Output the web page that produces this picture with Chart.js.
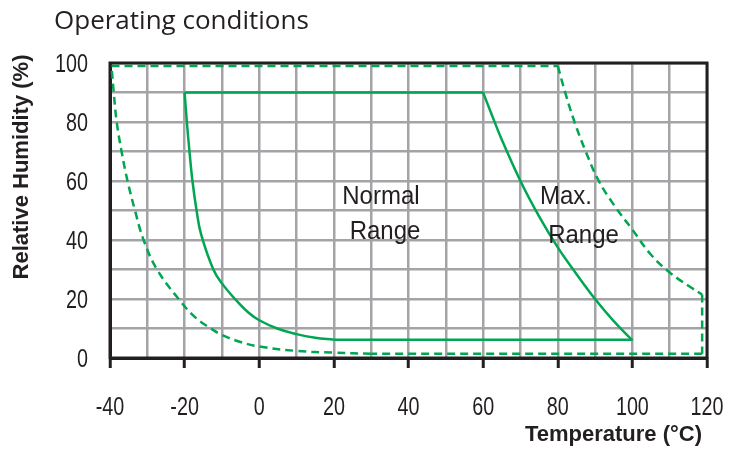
<!DOCTYPE html>
<html>
<head>
<meta charset="utf-8">
<script src="https://cdn.jsdelivr.net/npm/chart.js@4.4.1/dist/chart.umd.min.js"></script>
<style>
  body { margin: 0; background: #fff; }
  #wrap { width: 742px; height: 450px; }
</style>
</head>
<body>
<div id="wrap"><canvas id="myChart" width="742" height="450"></canvas></div>
<script>
  // normal range (solid outline), temperature in degC, relative humidity in %
  var normTopT = [-20, 60];
  var normTopRH = [90, 90];
  var normHotT = [60, 62, 65, 70, 75, 80, 85, 90, 95, 100];
  var normHotRH = [90, 83.5, 74, 60, 48, 37.5, 28.5, 20, 12.5, 6];
  var normBottomT = [100, 20];
  var normBottomRH = [6.2, 6.2];
  var normColdT = [20, 15, 10, 5, 0, -3, -6.5, -10, -12.3, -15.6, -16.8, -17.9, -18.7, -19.4, -20];
  var normColdRH = [6.2, 6.9, 8.1, 9.9, 12.8, 15.5, 20, 25.3, 30, 42, 50, 60, 70, 80, 90];

  // max. range (dashed outline)
  var maxTopT = [-39.6, 80];
  var maxTopRH = [99, 99];
  var maxHotT = [80, 82, 84.5, 87.5, 91, 95, 100, 105, 110, 115, 118.7];
  var maxHotRH = [99, 90, 80, 70, 60, 52, 43.5, 35, 29, 24.5, 21.5];
  var maxSideT = [118.7, 118.7];
  var maxSideRH = [21.5, 1.4];
  var maxBottomT = [118.7, 30];
  var maxBottomRH = [1.4, 1.4];
  var maxColdT = [30, 20, 10, 0, -5, -10, -12.7, -17, -21.6, -27.4, -31, -33.3, -35.3, -36.9, -38.2, -39, -39.6];
  var maxColdRH = [1.4, 1.8, 2.4, 3.9, 5.4, 7.8, 9.8, 13.6, 20, 30, 40, 50, 60, 70, 80, 90, 99];

  // labels inside the plot
  var noteText = ["Normal", "Range", "Max.", "Range"];
  var noteT = [32.6, 33.7, 82.2, 86.9];
  var noteRH = [54.6, 42.8, 54.6, 41.6];

  var GREEN = '#00a651';
  var GRID = '#a4a4a7';
  var INK = '#231f20';

  var seg = function(ts, rhs, dashed, tension) {
    return {
      data: ts.map(function(t, i) { return {x: t, y: rhs[i]}; }),
      showLine: true,
      borderColor: GREEN,
      borderWidth: 2.5,
      borderDash: dashed ? [8, 5] : [],
      pointRadius: 0,
      tension: tension,
      fill: false
    };
  };

  // narrow tick text: regular face squeezed sideways
  var narrowText = function(c, txt, x, y, align) {
    c.save();
    c.translate(x, y);
    c.scale(0.79, 1);
    c.textAlign = align;
    c.fillText(txt, 0, 0);
    c.restore();
  };

  var overlay = {
    id: 'overlay',
    beforeDatasetsDraw: function(chart) {
      var c = chart.ctx, a = chart.chartArea;
      c.save();
      c.strokeStyle = INK;
      c.lineWidth = 3;
      c.strokeRect(a.left, a.top, a.right - a.left, a.bottom - a.top);
      c.restore();
    },
    afterDraw: function(chart) {
      var c = chart.ctx, a = chart.chartArea;
      var xs = chart.scales.x, ys = chart.scales.y;
      c.save();
      c.fillStyle = INK;

      // tick labels, every second tick
      c.font = '25px "Liberation Sans"';
      c.textBaseline = 'alphabetic';
      xs.ticks.forEach(function(t) {
        if (t.value % 20 !== 0) return;
        narrowText(c, String(t.value), xs.getPixelForValue(t.value), a.bottom + 57, 'center');
      });
      ys.ticks.forEach(function(t) {
        if (t.value % 20 !== 0) return;
        narrowText(c, String(t.value), a.left - 22, ys.getPixelForValue(t.value) + 9, 'right');
      });

      c.font = '26px "Open Sans"';
      c.textAlign = 'left';
      c.fillText('Operating conditions', 54, 29);

      c.font = 'bold 22px "Liberation Sans"';
      c.textAlign = 'right';
      c.fillText('Temperature (\u00b0C)', 702, 441);

      c.save();
      c.translate(28, 167);
      c.rotate(-Math.PI / 2);
      c.textAlign = 'center';
      c.fillText('Relative Humidity (%)', 0, 0);
      c.restore();

      c.font = '24px "Liberation Sans"';
      c.textAlign = 'center';
      c.textBaseline = 'middle';
      for (var i = 0; i < noteText.length; i++) {
        c.save();
        c.translate(xs.getPixelForValue(noteT[i]), ys.getPixelForValue(noteRH[i]));
        c.scale(1, 1.1);
        c.fillText(noteText[i], 0, 0);
        c.restore();
      }
      c.restore();
    }
  };

  var ctx = document.getElementById('myChart').getContext('2d');
  var myChart = new Chart(ctx, {
    type: 'scatter',
    data: {
      datasets: [
        seg(normTopT, normTopRH, false, 0),
        seg(normHotT, normHotRH, false, 0.4),
        seg(normBottomT, normBottomRH, false, 0),
        seg(normColdT, normColdRH, false, 0.4),
        seg(maxTopT, maxTopRH, true, 0),
        seg(maxHotT, maxHotRH, true, 0.4),
        seg(maxSideT, maxSideRH, true, 0),
        seg(maxBottomT, maxBottomRH, true, 0),
        seg(maxColdT, maxColdRH, true, 0.4)
      ]
    },
    options: {
      responsive: false,
      animation: false,
      layout: { padding: { top: 63, right: 35, left: 0, bottom: 0 } },
      plugins: { legend: { display: false }, tooltip: { enabled: false } },
      scales: {
        x: {
          type: 'linear',
          min: -40, max: 120,
          afterFit: function(s) { s.height = 92; },
          border: { display: true, color: INK, width: 3 },
          grid: {
            color: GRID,
            lineWidth: 2.5,
            drawTicks: true,
            tickLength: 10,
            tickWidth: 3,
            tickColor: function(c) { return c.tick && c.tick.value % 20 === 0 ? INK : 'rgba(0,0,0,0)'; }
          },
          ticks: { stepSize: 10, autoSkip: false, display: false }
        },
        y: {
          type: 'linear',
          min: 0, max: 100,
          afterFit: function(s) { s.width = 110; },
          border: { display: true, color: INK, width: 3 },
          grid: { color: GRID, lineWidth: 2.5, drawTicks: false },
          ticks: { stepSize: 10, autoSkip: false, display: false }
        }
      }
    },
    plugins: [overlay]
  });
</script>
</body>
</html>
